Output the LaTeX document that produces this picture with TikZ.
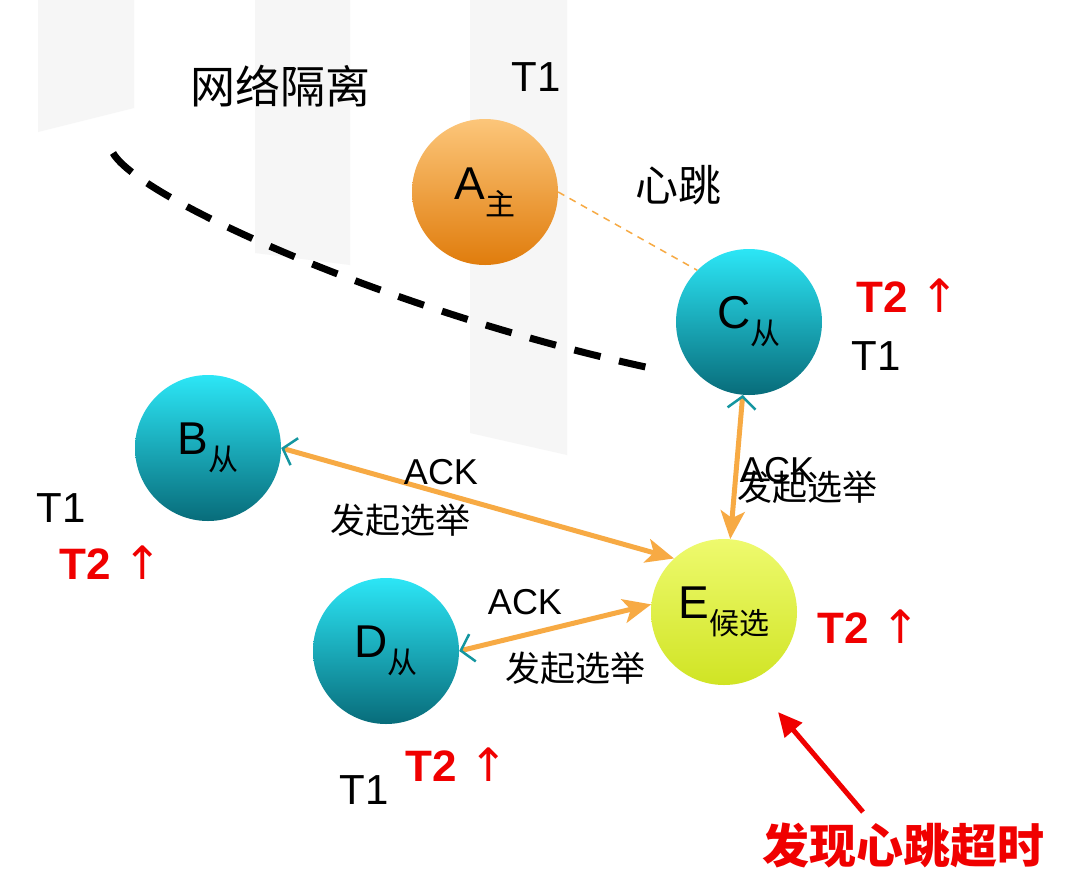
\documentclass[tikz,border=0pt]{standalone}
\usepackage{fontspec}
\setmainfont{Liberation Sans}
\newfontfamily\cjk{Noto Sans CJK SC}
\newfontfamily\symf{DejaVu Sans}
\usetikzlibrary{arrows.meta}
\definecolor{stripe}{RGB}{246,246,246}
\definecolor{orA1}{RGB}{252,198,122}
\definecolor{orA2}{RGB}{224,124,12}
\definecolor{tl1}{RGB}{44,230,246}
\definecolor{tl2}{RGB}{8,108,122}
\definecolor{ye1}{RGB}{238,250,110}
\definecolor{ye2}{RGB}{208,228,36}
\definecolor{connc}{RGB}{247,170,68}
\definecolor{chev}{RGB}{20,150,160}
\definecolor{hot}{RGB}{240,0,0}
\newcommand{\myfs}[1]{\fontsize{#1}{#1}\selectfont}
\newcommand{\circlab}[2]{{\myfs{46}#1}\raisebox{-16pt}{\myfs{30}\cjk #2}}
\newcommand{\tup}{{\myfs{44}\bfseries T2 }{\symf\myfs{46}↑}}
\tikzset{
  nodecirc/.style={circle, minimum size=146pt, inner sep=0pt},
  master/.style={nodecirc, top color=orA1, bottom color=orA2},
  slave/.style={nodecirc, top color=tl1, bottom color=tl2},
  cand/.style={nodecirc, top color=ye1, bottom color=ye2},
  elec/.style={draw=connc, line width=5pt,
    {Straight Barb[color=chev, line width=2.5pt, length=12pt, width=28pt]}-{Stealth[length=28pt, width=24pt, inset=7pt, color=connc]}},
  tlab/.style={font=\myfs{42}},
  tred/.style={text=hot},
  cjklab/.style={font=\cjk\myfs{35}},
  acklab/.style={font=\myfs{36}},
}
\begin{document}
\begin{tikzpicture}[x=1pt,y=-1pt]
\useasboundingbox (0,0) rectangle (1068,884);
\fill[white] (0,0) rectangle (1068,884);
% background stripes
\fill[stripe] (38,0) -- (134,0) -- (134,108) -- (38,132) -- cycle;
\fill[stripe] (255,0) -- (350,0) -- (350,265) -- (255,253) -- cycle;
\fill[stripe] (470,0) -- (567,0) -- (567,455) -- (470,433) -- cycle;
% network partition line
\draw[line width=7pt, dash pattern=on 27pt off 19pt] (113,153) .. controls (140,200) and (400,315) .. (655,369);
% circles
\node[master] (A) at (485,192) {\circlab{A}{主}};
\node[slave] (C) at (749,322) {\circlab{C}{从}};
\node[slave] (B) at (208,448) {\circlab{B}{从}};
\node[slave] (D) at (386,651) {\circlab{D}{从}};
\node[cand] (E) at (724,612) {\circlab{E}{候选}};
% heartbeat
\draw[connc, line width=1.5pt, dash pattern=on 7pt off 6pt] (A.east) -- (C.north west);
% election connectors
\draw[elec] (B.east) -- (E.133);
\draw[elec] (D.east) -- (E.174);
\draw[elec] (C) -- (E);
% labels
\node[font=\cjk\myfs{45}] (title) at (280,86) {网络隔离};
\node[tlab] (t1a) at (536,77) {T1};
\node[font=\cjk\myfs{43}] (hb) at (678,185) {心跳};
\node[tred] (t2c) at (908,296) {\tup};
\node[tlab] (t1c) at (876,356) {T1};
\node[tlab] (t1b) at (61,508) {T1};
\node[tred] (t2b) at (111,563) {\tup};
\node[tred] (t2e) at (869,627) {\tup};
\node[tlab] (t1d) at (364,790) {T1};
\node[tred] (t2d) at (457,765) {\tup};
\node[acklab] (ack1) at (441,472) {ACK};
\node[cjklab] (el1) at (400,520) {发起选举};
\node[acklab] (ack2) at (525,602) {ACK};
\node[cjklab] (el2) at (575,668) {发起选举};
\node[acklab] (ack3) at (777,470) {ACK};
\node[cjklab] (el3) at (807,487) {发起选举};
\node[font=\cjk\bfseries\myfs{47}, text=hot] (timeout) at (903,845) {发现心跳超时};
% timeout arrow
\coordinate (rtail) at (863,812);
\coordinate (rhead) at (778,712);
\draw[hot, line width=5pt, -{Triangle[length=24pt,width=22pt]}] (rtail) -- (rhead);
\end{tikzpicture}
\end{document}
